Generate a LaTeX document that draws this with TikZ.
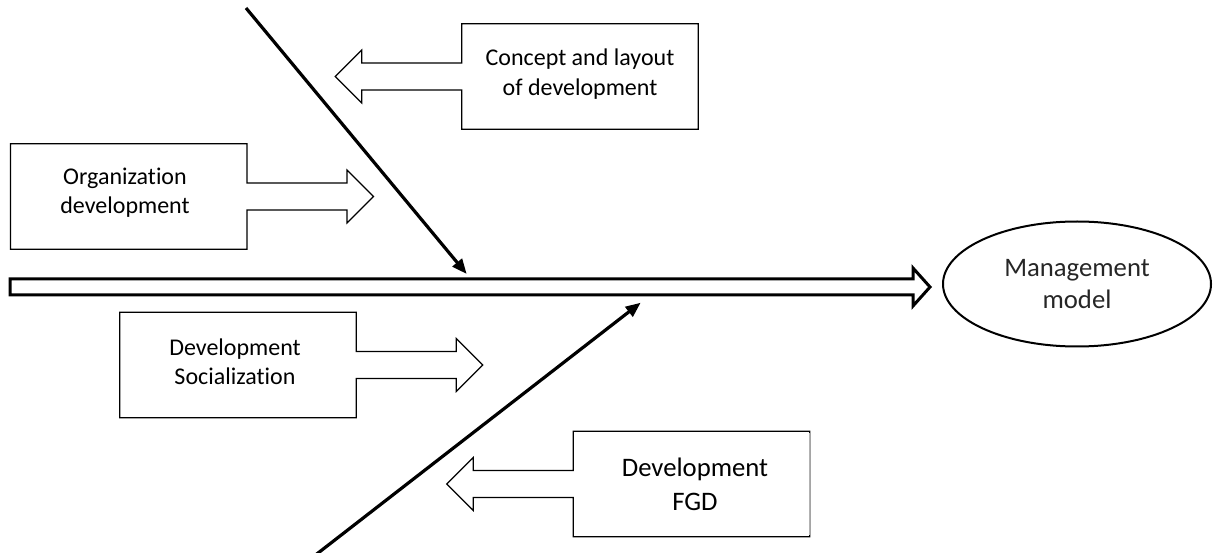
\documentclass[tikz,border=0pt]{standalone}
\usepackage{fontspec}
\setmainfont{Carlito}[Ligatures=NoCommon]
\usetikzlibrary{shapes.geometric,arrows.meta}

\tikzset{
  box/.style={minimum width=236pt, minimum height=105pt, inner sep=0pt},
  boxtext/.style={align=center, inner sep=0pt, font=\fontsize{24}{29.3}\selectfont},
  bigtext/.style={align=center, inner sep=0pt, font=\fontsize{26.7}{34}\selectfont},
  outline/.style={line width=1.2pt, fill=white, line join=miter},
  bone/.style={line width=3.2pt, -{Triangle[length=15pt,width=12pt]}},
  spine/.style={line width=3pt, line join=miter, fill=white},
}

\begin{document}
\begin{tikzpicture}[x=1pt, y=-1pt]
  \useasboundingbox (0,0) rectangle (1213,553);

  % boxes
  \node[box] (concept) at (580,76.5) {};
  \node[box] (orga) at (128.7,196.5) {};
  \node[box] (social) at (238,365) {};
  \node[box] (fgd) at (691.5,484) {};

  % spine
  \coordinate (tail) at (10,287);
  \draw[spine] (tail) ++(0,-8) -- ++(903,0) -- ++(0,-11) -- ++(17,19)
    -- ++(-17,19) -- ++(0,-11) -- ++(-903,0) -- cycle;
  \node[ellipse, draw, line width=2pt, minimum width=268pt, minimum height=125pt,
    inner sep=0pt, bigtext, text=black!85] (model) at (1077,284) {\raisebox{-2.5pt}{Management}\\model};

  % bones
  \coordinate (top) at (246,8);
  \coordinate (hit1) at (466.7,274);
  \coordinate (bottom) at (315.5,555);
  \coordinate (hit2) at (640.7,302.7);
  \draw[bone] (top) -- (hit1);
  \draw[bone] (bottom) -- (hit2);

  % box outlines with block arrows
  \draw[outline] ([yshift=13.5pt]concept.west) -- (concept.north west) -- (concept.north east)
    -- (concept.south east) -- (concept.south west) -- ([yshift=-13.5pt]concept.west)
    -- ++(-100,0) -- ++(0,13) -- ++(-26.5,-26.5) -- ++(26.5,-26.5) -- ++(0,13) -- cycle;
  \draw[outline] ([yshift=13.5pt]orga.east) -- (orga.north east) -- (orga.north west)
    -- (orga.south west) -- (orga.south east) -- ([yshift=-13.5pt]orga.east)
    -- ++(100,0) -- ++(0,13) -- ++(26.5,-26.5) -- ++(-26.5,-26.5) -- ++(0,13) -- cycle;
  \draw[outline] ([yshift=13.5pt]social.east) -- (social.north east) -- (social.north west)
    -- (social.south west) -- (social.south east) -- ([yshift=-13.5pt]social.east)
    -- ++(100,0) -- ++(0,13) -- ++(26.5,-26.5) -- ++(-26.5,-26.5) -- ++(0,13) -- cycle;
  \draw[outline] ([yshift=13.5pt]fgd.west) -- (fgd.north west) -- (fgd.north east)
    -- (fgd.south east) -- (fgd.south west) -- ([yshift=-13.5pt]fgd.west)
    -- ++(-100,0) -- ++(0,13) -- ++(-26.5,-26.5) -- ++(26.5,-26.5) -- ++(0,13) -- cycle;
  \draw[black!30, line width=1.2pt] ([yshift=-2pt]fgd.north east) -- ([yshift=2pt]fgd.south east);

  % texts
  \node[boxtext] (concept-txt) at ([yshift=2.5pt]concept.center) {Concept and layout\\of development};
  \node[boxtext] (orga-txt) at ([xshift=-3.7pt, yshift=4pt]orga.center) {Organization\\development};
  \node[boxtext] (social-txt) at ([xshift=-3pt, yshift=3pt]social.center) {Development\\Socialization};
  \node[bigtext] (fgd-txt) at ([xshift=3.5pt]fgd.center) {Development\\FGD};
\end{tikzpicture}
\end{document}
